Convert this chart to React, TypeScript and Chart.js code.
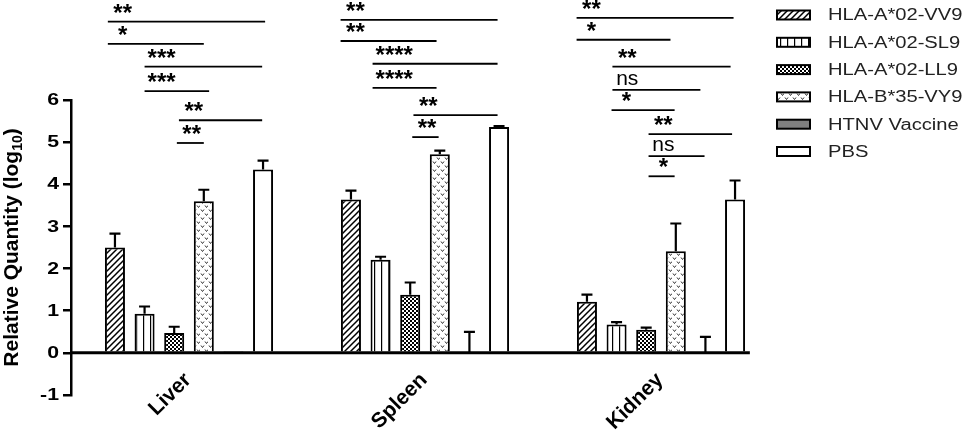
import React, { useEffect, useRef } from "react";
import { Chart, registerables } from "chart.js";

Chart.register(...registerables);

// ---------- data ----------
const categories = ["Liver", "Spleen", "Kidney"];
const seriesNames = ["HLA-A*02-VV9", "HLA-A*02-SL9", "HLA-A*02-LL9", "HLA-B*35-VY9", "HTNV Vaccine", "PBS"];

const vv9 = [2.5, 3.64, 1.21];
const sl9 = [0.93, 2.21, 0.67];
const ll9 = [0.47, 1.38, 0.55];
const vy9 = [3.6, 4.71, 2.41];
const htnv = [0.02, 0, 0];
const pbs = [4.35, 5.36, 3.64];

const vv9Err = [0.33, 0.21, 0.17];
const sl9Err = [0.17, 0.07, 0.06];
const ll9Err = [0.15, 0.29, 0.05];
const vy9Err = [0.27, 0.09, 0.66];
const htnvErr = [0, 0.5, 0.38];
const pbsErr = [0.21, 0.02, 0.45];

const yTickValues = [-1, 0, 1, 2, 3, 4, 5, 6];

// significance comparisons: [from series, to series, bracket height (log10 units), label]
const liverSig: [number, number, number, string][] = [
  [-0.24, 5.07, 7.86, "**"],
  [-0.24, 3.0, 7.33, "*"],
  [1.0, 4.97, 6.79, "***"],
  [1.0, 3.18, 6.21, "***"],
  [2.16, 4.97, 5.52, "**"],
  [2.09, 3.0, 4.98, "**"],
];
const spleenSig: [number, number, number, string][] = [
  [-0.35, 4.95, 7.9, "**"],
  [-0.35, 2.89, 7.4, "**"],
  [0.73, 4.95, 6.86, "****"],
  [0.73, 2.89, 6.29, "****"],
  [2.11, 4.95, 5.64, "**"],
  [2.07, 2.96, 5.12, "**"],
];
const kidneySig: [number, number, number, string][] = [
  [-0.35, 4.95, 7.95, "**"],
  [-0.35, 2.82, 7.43, "*"],
  [0.86, 4.85, 6.79, "**"],
  [0.86, 3.83, 6.24, "ns"],
  [0.83, 2.96, 5.76, "*"],
  [2.08, 4.9, 5.19, "**"],
  [2.08, 3.97, 4.67, "ns"],
  [2.08, 2.96, 4.19, "*"],
];

const seriesValues = [vv9, sl9, ll9, vy9, htnv, pbs];
const seriesErrors = [vv9Err, sl9Err, ll9Err, vy9Err, htnvErr, pbsErr];
const sigByCategory = [liverSig, spleenSig, kidneySig];

const FONT = "'Liberation Sans', Arial, Helvetica, sans-serif";

function makeTile(ctx: CanvasRenderingContext2D, w: number, h: number, draw: (g: CanvasRenderingContext2D) => void) {
  const c = document.createElement("canvas");
  c.width = w;
  c.height = h;
  const g = c.getContext("2d")!;
  g.fillStyle = "#fff";
  g.fillRect(0, 0, w, h);
  draw(g);
  return ctx.createPattern(c, "repeat")!;
}

function makeFills(ctx: CanvasRenderingContext2D): (string | CanvasPattern)[] {
  const hatch = makeTile(ctx, 6, 6, (g) => {
    g.strokeStyle = "#000";
    g.lineWidth = 1.5;
    g.beginPath();
    g.moveTo(0, 6); g.lineTo(6, 0);
    g.moveTo(-1, 1); g.lineTo(1, -1);
    g.moveTo(5, 7); g.lineTo(7, 5);
    g.stroke();
  });
  const vertical = makeTile(ctx, 7, 4, (g) => {
    g.fillStyle = "#000";
    g.fillRect(3, 0, 1.2, 4);
  });
  const checker = makeTile(ctx, 4, 4, (g) => {
    g.fillStyle = "#000";
    g.fillRect(0, 0, 4, 4);
    g.fillStyle = "#fff";
    g.fillRect(0, 0, 2, 2);
    g.fillRect(2, 2, 2, 2);
  });
  const vees = makeTile(ctx, 8, 8, (g) => {
    g.strokeStyle = "#333";
    g.lineWidth = 1;
    g.beginPath();
    g.moveTo(1, 1.5); g.lineTo(2.5, 3.5); g.lineTo(4, 1.5);
    g.moveTo(5, 5.5); g.lineTo(6.5, 7.5); g.lineTo(8, 5.5);
    g.stroke();
  });
  return [hatch, vertical, checker, vees, "#808080", "#ffffff"];
}

const overlayPlugin = {
  id: "overlay",
  afterDatasetsDraw(chart: any) {
    const { ctx, chartArea } = chart;
    const x = chart.scales.x;
    const y = chart.scales.y;
    const n = chart.data.datasets.length;
    const m0 = chart.getDatasetMeta(0);
    const m1 = chart.getDatasetMeta(1);
    const pitch = m1.data[0].x - m0.data[0].x;
    const zeroY = y.getPixelForValue(0);

    ctx.save();
    // error bars
    ctx.strokeStyle = "#000";
    ctx.lineWidth = 2.2;
    chart.data.datasets.forEach((ds: any, di: number) => {
      const meta = chart.getDatasetMeta(di);
      meta.data.forEach((bar: any, i: number) => {
        const v = ds.data[i];
        const e = seriesErrors[di][i];
        if (!e) return;
        const yb = y.getPixelForValue(v);
        const yt = y.getPixelForValue(v + e);
        ctx.beginPath();
        ctx.moveTo(bar.x, yb);
        ctx.lineTo(bar.x, yt);
        ctx.moveTo(bar.x - 5.5, yt);
        ctx.lineTo(bar.x + 5.5, yt);
        ctx.stroke();
      });
    });

    // zero axis line
    const lastX = x.getPixelForValue(categories.length - 1) + (n / 2) * pitch;
    ctx.lineWidth = 3;
    ctx.beginPath();
    ctx.moveTo(chartArea.left, zeroY);
    ctx.lineTo(lastX, zeroY);
    ctx.stroke();

    // y tick labels (wide bold digits)
    ctx.fillStyle = "#000";
    ctx.font = `bold 17px ${FONT}`;
    ctx.textAlign = "right";
    ctx.textBaseline = "middle";
    yTickValues.forEach((v) => {
      const py = y.getPixelForValue(v);
      ctx.save();
      ctx.translate(chartArea.left - 12, py + 0.5);
      ctx.scale(1.25, 1);
      ctx.fillText(String(v), 0, 0);
      ctx.restore();
    });

    // significance brackets
    sigByCategory.forEach((list, ci) => {
      const cx = x.getPixelForValue(ci);
      const posOf = (s: number) => cx + (s - (n - 1) / 2) * pitch;
      list.forEach(([from, to, level, label]) => {
        const x1 = posOf(from);
        const x2 = posOf(to);
        const ly = y.getPixelForValue(level);
        ctx.lineWidth = 1.8;
        ctx.strokeStyle = "#000";
        ctx.beginPath();
        ctx.moveTo(x1, ly);
        ctx.lineTo(x2, ly);
        ctx.stroke();
        ctx.fillStyle = "#000";
        ctx.textAlign = "left";
        ctx.textBaseline = "alphabetic";
        if (label === "ns") {
          ctx.font = `21px ${FONT}`;
          const w = ctx.measureText(label).width;
          ctx.fillText(label, x1 + Math.max(2, pitch / 2 - w / 2), ly - 5);
        } else {
          ctx.font = `bold 24px ${FONT}`;
          const w = ctx.measureText(label).width;
          ctx.fillText(label, x1 + Math.max(3, pitch / 2 - w / 2), ly - 1);
        }
      });
    });

    // category labels
    ctx.font = `bold 21px ${FONT}`;
    ctx.fillStyle = "#000";
    categories.forEach((c, i) => {
      const px = x.getPixelForValue(i);
      ctx.save();
      ctx.translate(px + 3, zeroY + 28);
      ctx.rotate(-Math.PI / 4);
      ctx.textAlign = "right";
      ctx.textBaseline = "alphabetic";
      ctx.fillText(c, 0, 0);
      ctx.restore();
    });

    // y-axis title with subscript
    ctx.save();
    ctx.translate(18, (chartArea.top + chartArea.bottom) / 2);
    ctx.rotate(-Math.PI / 2);
    ctx.textAlign = "left";
    ctx.textBaseline = "alphabetic";
    const main = "Relative Quantity (log";
    const sub = "10";
    const close = ")";
    ctx.font = `bold 21px ${FONT}`;
    const wMain = ctx.measureText(main).width;
    const wClose = ctx.measureText(close).width;
    ctx.font = `bold 14px ${FONT}`;
    const wSub = ctx.measureText(sub).width;
    let sx = -(wMain + wSub + wClose) / 2;
    ctx.font = `bold 21px ${FONT}`;
    ctx.fillText(main, sx, 0);
    sx += wMain;
    ctx.font = `bold 14px ${FONT}`;
    ctx.fillText(sub, sx, 4);
    sx += wSub;
    ctx.font = `bold 21px ${FONT}`;
    ctx.fillText(close, sx, 0);
    ctx.restore();

    // legend
    chart.data.datasets.forEach((ds: any, di: number) => {
      const rowY = 15 + di * 27.3;
      const bx = chartArea.right - 2;
      ctx.fillStyle = ds.backgroundColor;
      ctx.fillRect(bx, rowY - 4.5, 33, 9);
      ctx.strokeStyle = "#000";
      ctx.lineWidth = 2;
      ctx.strokeRect(bx, rowY - 4.5, 33, 9);
      ctx.save();
      ctx.fillStyle = "#222";
      ctx.font = `16px ${FONT}`;
      ctx.textAlign = "left";
      ctx.textBaseline = "middle";
      ctx.translate(bx + 51, rowY + 1);
      ctx.scale(1.26, 1);
      ctx.fillText(ds.label, 0, 0);
      ctx.restore();
    });
    ctx.restore();
  },
};

export default function App() {
  const ref = useRef<HTMLCanvasElement>(null);
  useEffect(() => {
    const canvas = ref.current!;
    const fills = makeFills(canvas.getContext("2d")!);
    const chart = new Chart(canvas, {
      type: "bar",
      data: {
        labels: categories,
        datasets: seriesNames.map((name, i) => ({
          label: name,
          data: seriesValues[i],
          backgroundColor: fills[i] as any,
          borderColor: "#000",
          borderWidth: 2,
          categoryPercentage: 0.753,
          barPercentage: 0.676,
        })),
      },
      options: {
        animation: false,
        responsive: true,
        maintainAspectRatio: false,
        layout: { padding: { top: 100, bottom: 35, left: 0, right: 186 } },
        plugins: { legend: { display: false }, tooltip: { enabled: false } },
        scales: {
          x: { display: false, offset: true },
          y: {
            min: -1,
            max: 6,
            afterFit: (s: any) => {
              s.width = 71;
            },
            afterBuildTicks: (s: any) => {
              s.ticks = yTickValues.map((v) => ({ value: v }));
            },
            ticks: { display: false },
            grid: {
              drawOnChartArea: false,
              drawTicks: true,
              tickLength: 8,
              color: "#000",
              lineWidth: 2.5,
            },
            border: { display: true, color: "#000", width: 2.5 },
          },
        },
      },
      plugins: [overlayPlugin],
    });
    return () => chart.destroy();
  }, []);
  return (
    <div style={{ position: "absolute", left: 0, top: 0, width: 965, height: 430, background: "#fff" }}>
      <canvas ref={ref} />
    </div>
  );
}
